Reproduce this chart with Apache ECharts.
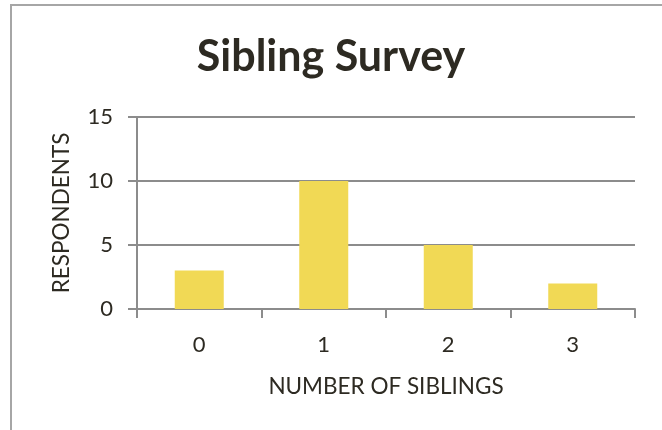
<!DOCTYPE html>
<html>
<head>
<meta charset="utf-8">
<script src="https://cdn.jsdelivr.net/npm/echarts@6/dist/echarts.min.js"></script>
<style>
html,body{margin:0;padding:0;background:#fff;}
#chart{width:662px;height:430px;}
</style>
</head>
<body>
<div id="chart"></div>
<script>
const titleText = "Sibling Survey";
const categories = ["0", "1", "2", "3"];
const respondents = [3, 10, 5, 2];
const yTicks = [0, 5, 10, 15];
const xAxisName = "NUMBER OF SIBLINGS";
const yAxisName = "RESPONDENTS";

const FONT = "Lato";
const TEXT = "#2d2a22";
const GRID = "#8c8c8c";

const chart = echarts.init(document.getElementById('chart'), null, {renderer: 'canvas'});
chart.setOption({
  animation: false,
  backgroundColor: '#fff',
  title: {
    text: titleText,
    left: 'center',
    top: 31,
    textStyle: {fontFamily: FONT, fontWeight: 'bold', fontSize: 43, color: TEXT}
  },
  graphic: [{
    type: 'polyline',
    shape: {points: [[11, 440], [11, 5], [670, 5]]},
    style: {stroke: '#a6a6a6', lineWidth: 2, fill: null},
    silent: true
  }],
  grid: {left: 137, right: 27, top: 117, bottom: 121, containLabel: false},
  xAxis: {
    type: 'category',
    data: categories,
    name: xAxisName,
    nameLocation: 'middle',
    nameGap: 66,
    nameTextStyle: {fontFamily: FONT, fontSize: 22.5, color: TEXT},
    axisLine: {show: true, lineStyle: {color: GRID, width: 2}},
    axisTick: {show: true, alignWithLabel: false, length: 9, lineStyle: {color: GRID, width: 2}},
    axisLabel: {fontFamily: FONT, fontSize: 22, color: TEXT, margin: 25}
  },
  yAxis: {
    type: 'value',
    min: yTicks[0],
    max: yTicks[yTicks.length - 1],
    interval: yTicks[1] - yTicks[0],
    name: yAxisName,
    nameLocation: 'middle',
    nameGap: 64,
    nameTextStyle: {fontFamily: FONT, fontSize: 22.5, color: TEXT},
    axisLine: {show: true, lineStyle: {color: GRID, width: 2}},
    axisTick: {show: true, length: 9, lineStyle: {color: GRID, width: 2}},
    axisLabel: {fontFamily: FONT, fontSize: 22, color: TEXT, margin: 24},
    splitLine: {show: true, lineStyle: {color: GRID, width: 2}}
  },
  series: [{
    type: 'bar',
    data: respondents,
    barWidth: 49,
    itemStyle: {color: '#f1d955'}
  }]
});
</script>
</body>
</html>
